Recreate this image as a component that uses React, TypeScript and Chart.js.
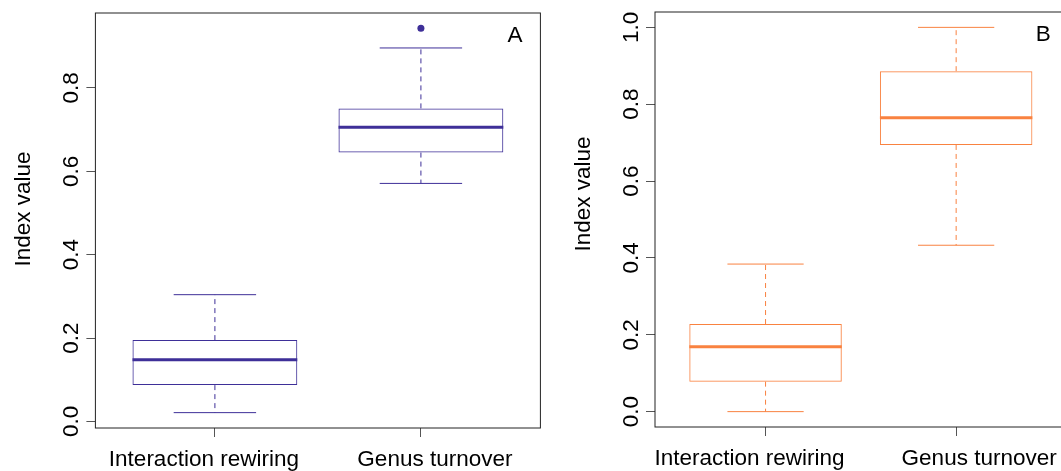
import React, { useEffect, useRef } from "react";
import { Chart, registerables } from "chart.js";

Chart.register(...registerables);

// ---------- data ----------
const categories = ["Interaction rewiring", "Genus turnover"];

// Panel A
const yTicksA = [0, 0.2, 0.4, 0.6, 0.8];
const lowerWhiskerA = [0.021, 0.571];
const lowerQuartileA = [0.087, 0.645];
const medianA = [0.148, 0.706];
const upperQuartileA = [0.195, 0.751];
const upperWhiskerA = [0.304, 0.896];
const outliersA: number[][] = [[], [0.943]];

// Panel B
const yTicksB = [0, 0.2, 0.4, 0.6, 0.8, 1.0];
const lowerWhiskerB = [0.0, 0.433];
const lowerQuartileB = [0.078, 0.694];
const medianB = [0.169, 0.765];
const upperQuartileB = [0.228, 0.886];
const upperWhiskerB = [0.384, 1.0];
const outliersB: number[][] = [[], []];

const yTitle = "Index value";
const FONT = '"Liberation Sans", Arial, Helvetica, sans-serif';
const FONT_SIZE = 22.5;

type Stats = {
  lo: number[];
  q1: number[];
  med: number[];
  q3: number[];
  hi: number[];
  out: number[][];
  ticks: number[];
};

type Layout = {
  canvasLeft: number;
  canvasWidth: number;
  left: number;
  right: number;
  top: number;
  bottom: number;
  titleCenterY: number;
  labelShift: number[];
};

const CANVAS_H = 471;

function BoxPanel(props: { stats: Stats; color: string; tag: string; layout: Layout }) {
  const ref = useRef<HTMLCanvasElement | null>(null);
  const { stats, color, tag, layout } = props;

  useEffect(() => {
    if (!ref.current) return;
    const pos = categories.map((_, i) => i + 1);
    const boxW = 0.8;
    const capW = 0.4;

    const allVals = [...stats.lo, ...stats.hi, ...stats.out.flat()];
    const dMin = Math.min(...allVals);
    const dMax = Math.max(...allVals);
    const ext = (dMax - dMin) * 0.04;

    const medianData: any[] = [];
    const whiskerData: any[] = [];
    const capData: any[] = [];
    const outData: any[] = [];
    pos.forEach((p, i) => {
      medianData.push({ x: p - boxW / 2, y: stats.med[i] }, { x: p + boxW / 2, y: stats.med[i] }, { x: p + 0.5, y: null });
      whiskerData.push(
        { x: p, y: stats.q3[i] }, { x: p, y: stats.hi[i] }, { x: p + 0.01, y: null },
        { x: p, y: stats.q1[i] }, { x: p, y: stats.lo[i] }, { x: p + 0.02, y: null }
      );
      capData.push(
        { x: p - capW / 2, y: stats.hi[i] }, { x: p + capW / 2, y: stats.hi[i] }, { x: p + 0.3, y: null },
        { x: p - capW / 2, y: stats.lo[i] }, { x: p + capW / 2, y: stats.lo[i] }, { x: p + 0.4, y: null }
      );
      stats.out[i].forEach((v) => outData.push({ x: p, y: v }));
    });
    const boxData = pos.map((p, i) => ({ x: p, y: [stats.q1[i], stats.q3[i]] }));

    const textPlugin = {
      id: "rtext",
      afterDraw(chart: any) {
        const ctx = chart.ctx as CanvasRenderingContext2D;
        const a = chart.chartArea;
        const xs = chart.scales.x;
        const ys = chart.scales.y;
        ctx.save();
        // frame
        ctx.strokeStyle = "#222";
        ctx.lineWidth = 1;
        ctx.strokeRect(a.left, a.top, a.right - a.left, a.bottom - a.top);
        ctx.fillStyle = "#000";
        ctx.font = `${FONT_SIZE}px ${FONT}`;
        // y tick labels
        ctx.textAlign = "center";
        ctx.textBaseline = "alphabetic";
        stats.ticks.forEach((v) => {
          const y = ys.getPixelForValue(v);
          ctx.save();
          ctx.translate(a.left - 17, y);
          ctx.rotate(-Math.PI / 2);
          ctx.fillText(v.toFixed(1), 0, 0);
          ctx.restore();
        });
        // y title
        ctx.save();
        ctx.translate(a.left - 65, layout.titleCenterY);
        ctx.rotate(-Math.PI / 2);
        ctx.fillText(yTitle, 0, 0);
        ctx.restore();
        // x labels
        categories.forEach((c, i) => {
          const x = xs.getPixelForValue(i + 1) + layout.labelShift[i];
          ctx.fillText(c, x, a.bottom + 38);
        });
        // panel tag
        ctx.fillText(tag, xs.getPixelForValue(2.457), a.top + 28.7);
        ctx.restore();
      },
    };

    const chart = new Chart(ref.current, {
      type: "line",
      data: {
        datasets: [
          {
            type: "line",
            data: medianData,
            borderColor: color,
            borderWidth: 3,
            pointRadius: 0,
            spanGaps: false,
          },
          {
            type: "scatter",
            data: outData,
            backgroundColor: color,
            borderColor: color,
            pointRadius: 3.5,
            borderWidth: 0,
          },
          {
            type: "line",
            data: capData,
            borderColor: color,
            borderWidth: 1,
            pointRadius: 0,
            spanGaps: false,
          },
          {
            type: "line",
            data: whiskerData,
            borderColor: color,
            borderWidth: 1,
            borderDash: [5, 4],
            pointRadius: 0,
            spanGaps: false,
          },
          {
            type: "bar",
            data: boxData as any,
            backgroundColor: "rgba(255,255,255,0)",
            borderColor: color,
            borderWidth: 1,
            borderSkipped: false,
            barPercentage: 0.8,
            categoryPercentage: 1,
          },
        ] as any,
      },
      options: {
        animation: false,
        responsive: false,
        events: [],
        layout: {
          padding: { left: 0, top: layout.top, right: layout.canvasWidth - layout.right, bottom: 0 },
        },
        plugins: { legend: { display: false }, tooltip: { enabled: false }, title: { display: false } },
        scales: {
          x: {
            type: "linear",
            min: 0.5 - 0.08,
            max: categories.length + 0.5 + 0.08,
            offset: false,
            afterBuildTicks: (s: any) => {
              s.ticks = pos.map((p) => ({ value: p }));
            },
            afterFit: (s: any) => {
              s.height = CANVAS_H - layout.bottom;
            },
            ticks: { display: false },
            grid: { display: true, drawOnChartArea: false, drawTicks: true, tickLength: 9, color: "#555", offset: false },
            border: { display: false },
          },
          y: {
            type: "linear",
            min: dMin - ext,
            max: dMax + ext,
            afterBuildTicks: (s: any) => {
              s.ticks = stats.ticks.map((v) => ({ value: v }));
            },
            afterFit: (s: any) => {
              s.width = layout.left;
            },
            ticks: { display: false },
            grid: { display: true, drawOnChartArea: false, drawTicks: true, tickLength: 9, color: "#555" },
            border: { display: false },
          },
        },
      } as any,
      plugins: [textPlugin],
    });
    return () => chart.destroy();
  }, []);

  return (
    <canvas
      ref={ref}
      width={layout.canvasWidth}
      height={CANVAS_H}
      style={{ position: "absolute", left: layout.canvasLeft, top: 0, width: layout.canvasWidth, height: CANVAS_H }}
    />
  );
}

export default function App() {
  const statsA: Stats = {
    lo: lowerWhiskerA, q1: lowerQuartileA, med: medianA, q3: upperQuartileA, hi: upperWhiskerA, out: outliersA, ticks: yTicksA,
  };
  const statsB: Stats = {
    lo: lowerWhiskerB, q1: lowerQuartileB, med: medianB, q3: upperQuartileB, hi: upperWhiskerB, out: outliersB, ticks: yTicksB,
  };
  const layoutA: Layout = {
    canvasLeft: 0, canvasWidth: 560, left: 95.4, right: 540.4, top: 13, bottom: 428, titleCenterY: 209, labelShift: [-11, 14],
  };
  const layoutB: Layout = {
    canvasLeft: 560, canvasWidth: 520, left: 95, right: 506.7, top: 12, bottom: 427, titleCenterY: 194, labelShift: [-16, 23],
  };
  return (
    <div style={{ position: "fixed", left: 0, top: 0, width: 1061, height: 471, overflow: "hidden", background: "#fff" }}>
      <BoxPanel stats={statsA} color="#3E2F98" tag="A" layout={layoutA} />
      <BoxPanel stats={statsB} color="#F98240" tag="B" layout={layoutB} />
    </div>
  );
}
